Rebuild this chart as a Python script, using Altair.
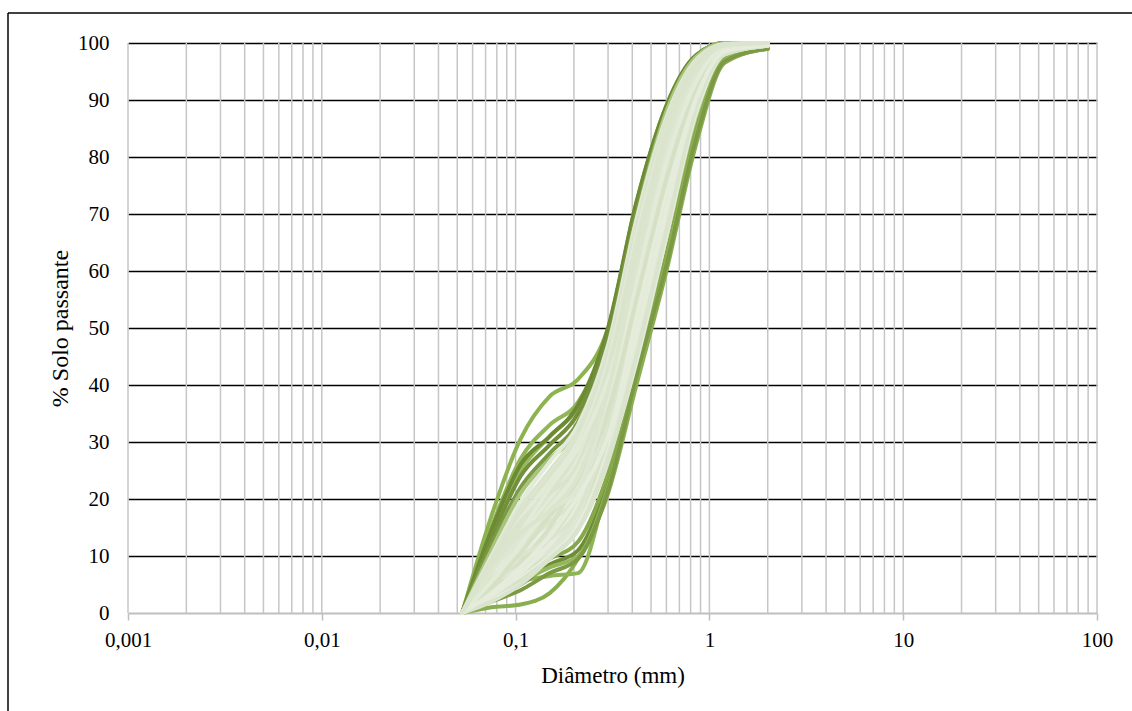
import altair as alt
import pandas as pd

# ---- data -------------------------------------------------------------------
SIEVES = [0.053, 0.075, 0.106, 0.15, 0.21, 0.3, 0.42, 0.6, 0.85, 1.2, 2.0]

UPPER_OUTLIERS = {
    "U1": [0, 17, 30.5, 38, 41, 50, 72, 89, 97.8, 100, 100],
    "U2": [0, 15, 27, 33, 37, 49, 71, 88.5, 97.5, 100, 100],
    "U3": [0, 14, 25, 31, 36, 48, 70, 88, 97.5, 100, 100],
    "D1": [0, 14.5, 26, 31, 36.5, 50, 72, 89, 97.8, 100, 100],
    "D2": [0, 13, 24, 29.5, 35, 48.5, 70.5, 88, 97.5, 100, 100],
    "D3": [0, 12, 22, 28, 33.5, 47.5, 70, 88, 97.5, 100, 100],
}

LOWER_OUTLIERS = {
    "R1": [0, 1, 1.5, 3.5, 9.5, 21, 40, 60, 82, 96.5, 99],
    "R2": [0, 3, 5.5, 6.5, 7, 23, 41.5, 61, 83, 96.8, 99],
    "R3": [0, 2.5, 5, 8.5, 11, 23, 42, 62, 84, 97, 99.2],
    "R4": [0, 3.5, 6.5, 9.5, 12.5, 24.5, 43, 63, 85, 97.5, 99.3],
    "R5": [0, 3, 5.5, 8, 10, 22, 41, 61.5, 83.5, 97, 99.2],
    "R6": [0, 2, 4, 7, 9.5, 21.5, 41.5, 61, 83, 96.8, 99],
}

MID_CURVES = {
    "T1": [0, 11, 21, 27, 32, 46, 69, 88, 97.5, 100, 100],
    "T2": [0, 4.5, 9, 13, 17, 28, 46, 66, 87, 98.3, 99.6],
    "T3": [0, 8, 15, 20, 26, 40, 62, 84, 96, 99.6, 100],
}

BUNDLE = {
    "L01": [0, 10, 19.5, 26.5, 33, 47, 69, 87, 97, 99.8, 100],
    "L20": [0, 2.5, 5.5, 10, 15, 27, 44, 66, 87.5, 98, 99.5],
    "L02": [0, 9.5, 18.5, 25, 32, 46, 68, 86.5, 96.8, 99.8, 100],
    "L19": [0, 3, 6, 10.5, 15.5, 28, 45.5, 67.5, 88.5, 98.2, 99.5],
    "L03": [0, 9, 17.5, 24, 31, 45, 67, 86, 96.5, 99.7, 100],
    "L18": [0, 3, 6.5, 11, 16, 29, 47, 69, 89, 98.3, 99.6],
    "L04": [0, 8.5, 16.5, 23, 30, 44, 66, 85, 96, 99.7, 100],
    "L17": [0, 3.5, 6.5, 10.5, 16, 30, 48.5, 70.5, 90, 98.5, 99.6],
    "L05": [0, 8, 15.5, 22, 29, 43, 65, 84.5, 95.8, 99.6, 100],
    "L16": [0, 3.5, 7, 11, 17, 31, 50, 72, 90.5, 98.6, 99.7],
    "L06": [0, 7.5, 14.5, 21, 28, 42, 64, 84, 95.5, 99.6, 100],
    "L15": [0, 4, 8, 12, 18, 32, 51.5, 73.5, 91, 98.7, 99.7],
    "L07": [0, 7, 13.5, 20, 27, 41, 62.5, 83, 95, 99.5, 100],
    "L14": [0, 4, 8.5, 12.5, 19, 33, 53, 75, 91.5, 98.8, 99.7],
    "L08": [0, 6.5, 13, 19, 26, 40, 61.5, 82, 94.5, 99.4, 100],
    "L13": [0, 4.5, 9, 13, 20, 34.5, 54.5, 76.5, 92, 98.9, 99.8],
    "L09": [0, 6, 12, 17.5, 24.5, 39, 60, 81, 94, 99.3, 99.9],
    "L12": [0, 5, 9.5, 14, 21, 35.5, 56, 78, 92.5, 99, 99.8],
    "L10": [0, 5.5, 11, 16, 23, 37.5, 58.5, 80, 93.5, 99.2, 99.9],
    "L11": [0, 5, 10, 15, 22, 36.5, 57, 79, 93, 99.1, 99.8],
    "L21": [0, 7, 12, 16, 21, 40, 64, 85, 96.5, 99.7, 100],
    "L22": [0, 4, 9, 15, 24, 36, 54, 74, 91.5, 98.8, 99.7],
    "L23": [0, 9, 16, 21, 26, 42, 63, 84, 96, 99.6, 100],
    "L24": [0, 5, 8, 11, 17, 34, 57, 80, 94, 99.2, 99.9],
    "L25": [0, 6, 14, 22, 29, 41, 59, 79, 93, 99, 99.8],
    "L26": [0, 3, 7, 12, 19, 32, 52, 74, 91, 98.8, 99.7],
    "L27": [0, 6, 10, 13, 18, 33, 55, 77, 92.5, 99, 99.8],
    "L28": [0, 4.5, 10.5, 17, 23, 35, 55, 76, 92, 99, 99.8],
    "L29": [0, 2, 5, 9.5, 14.5, 26.5, 45, 67, 88.5, 98, 99.5],
    "L30": [0, 7.5, 13, 18, 22, 38, 60, 82, 94.5, 99.4, 100],
    "L31": [0, 5.5, 12, 18.5, 25, 38, 58, 79, 93, 99.1, 99.8],
    "L32": [0, 3.5, 8, 13.5, 20.5, 31, 49, 71, 90, 98.5, 99.6],
    "L33": [0, 8, 14, 18, 24, 39, 61, 83, 95, 99.5, 100],
}

X_LABEL_TICKS = [0.001, 0.01, 0.1, 1, 10, 100]
Y_TICKS = [0, 10, 20, 30, 40, 50, 60, 70, 80, 90, 100]

# ---- styles -----------------------------------------------------------------
COLORS = {
    "U1": "#8cb350", "U2": "#90b657", "U3": "#96b95e",
    "D1": "#6c8a33", "D2": "#728f3a", "D3": "#7b9944",
    "R1": "#89ae4f", "R2": "#8fb455", "R3": "#6f8d37",
    "R4": "#84a84a", "R5": "#93b75a", "R6": "#7c9a44",
    "T1": "#a8c37c", "T2": "#b3cb8c", "T3": "#bdd29c",
}
LIGHT_SHADES = ["#d5e0c5", "#dae4cd", "#dee7d3", "#e2ead8", "#e5ecdc", "#dbe5ce"]
FONT = "Liberation Serif"

# ---- build long table -------------------------------------------------------
rows = []
order = 0
color_domain, color_range = [], []
for group in (UPPER_OUTLIERS, LOWER_OUTLIERS, MID_CURVES, BUNDLE):
    for name, vals in group.items():
        cid = f"{order:02d}_{name}"
        col = COLORS.get(name, LIGHT_SHADES[order % len(LIGHT_SHADES)])
        color_domain.append(cid)
        color_range.append(col)
        for d, p in zip(SIEVES, vals):
            rows.append({"id": cid, "d": d, "p": p})
        order += 1
df = pd.DataFrame(rows)

minor_ticks = sorted({round(m * 10.0 ** e, 6) for e in range(-3, 2) for m in range(1, 10)} | {100.0})
grid_df = pd.DataFrame({"d": minor_ticks})

xscale = alt.Scale(type="log", domain=[0.001, 100], nice=False)
yscale = alt.Scale(domain=[0, 100], nice=False)

x_axis = alt.Axis(
    values=X_LABEL_TICKS,
    labelExpr="replace(format(datum.value, '~g'), '.', ',')",
    grid=False,
    domain=True, domainColor="#bfbfbf", domainWidth=2,
    ticks=True, tickColor="#bfbfbf", tickSize=7, tickWidth=1.5,
    labelFont=FONT, labelFontSize=21, labelColor="black",
    labelPadding=9, labelFlush=False, labelOverlap=False,
    title="Diâmetro (mm)", titleFont=FONT, titleFontSize=23,
    titleFontWeight="normal", titleColor="black",
    titleBaseline="alphabetic", titleY=69,
)

y_axis = alt.Axis(
    values=Y_TICKS,
    grid=True, gridColor="black", gridWidth=1.5,
    gridOpacity={"condition": {"test": "datum.value == 0", "value": 0}, "value": 1},
    domain=False, ticks=False,
    labelFont=FONT, labelFontSize=21, labelColor="black", labelPadding=19,
    title="%  Solo passante", titleFont=FONT, titleFontSize=24,
    titleFontWeight="normal", titleColor="black",
    titleAngle=270, titleBaseline="middle", titleX=-68, titleY=285,
)

vgrid = alt.Chart(grid_df).mark_rule(color="#c6c6c6", strokeWidth=1.5).encode(
    x=alt.X("d:Q", scale=xscale, axis=x_axis, title="Diâmetro (mm)")
)

lines = alt.Chart(df).mark_line(
    strokeWidth=4, interpolate="monotone", strokeCap="round", strokeJoin="round"
).encode(
    x=alt.X("d:Q", scale=xscale, axis=x_axis, title="Diâmetro (mm)"),
    y=alt.Y("p:Q", scale=yscale, axis=y_axis, title="%  Solo passante"),
    color=alt.Color("id:N", scale=alt.Scale(domain=color_domain, range=color_range), legend=None),
    detail="id:N",
)

one = pd.DataFrame({"a": [0]})
border_left = alt.Chart(one).mark_rule(color="black", strokeWidth=1.5).encode(
    x=alt.value(-120), y=alt.value(-30), y2=alt.value(720)
)
border_top = alt.Chart(one).mark_rule(color="black", strokeWidth=1.5).encode(
    x=alt.value(-120), x2=alt.value(1100), y=alt.value(-30)
)

chart = alt.layer(vgrid, lines, border_left, border_top).properties(
    width=969,
    height=570,
    autosize=alt.AutoSizeParams(type="none"),
    padding={"left": 128, "top": 43, "right": 35, "bottom": 98},
).configure_view(stroke=None)

chart.save("out.html", embed_options={"renderer": "svg", "actions": False})
